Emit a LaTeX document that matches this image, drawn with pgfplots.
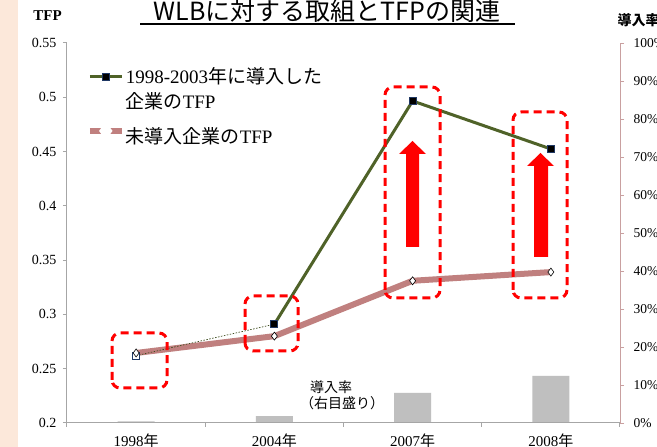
\documentclass[border=0pt]{standalone}
\usepackage{pgfplots}
\pgfplotsset{compat=1.18}
\usepackage{fontspec}
\setmainfont{Liberation Serif}
\newfontfamily\cjk{Noto Sans CJK JP}
\definecolor{peach}{HTML}{FCE8DA}
\definecolor{olivec}{HTML}{4F6228}
\definecolor{rose}{HTML}{C0807F}
\definecolor{navyb}{HTML}{1F3864}
\definecolor{axgray}{HTML}{A6A6A6}
\definecolor{axpink}{HTML}{C9A0A0}
\definecolor{bargray}{HTML}{BFBFBF}
\begin{document}
\begin{tikzpicture}[x=1pt,y=1pt]
\useasboundingbox (0,0) rectangle (657,447);
\clip (0,0) rectangle (657,447);
\fill[white] (0,0) rectangle (657,447);
\fill[peach] (0,0) rectangle (18,447);

% right axis: adoption rate bars
\begin{axis}[at={(67pt,24pt)}, anchor=south west, scale only axis,
  width=553pt, height=380pt,
  xmin=-0.5, xmax=3.5, ymin=0, ymax=1,
  axis y line*=right, axis x line=none,
  ytick={0,0.1,0.2,0.3,0.4,0.5,0.6,0.7,0.8,0.9,1},
  yticklabels={0\%,10\%,20\%,30\%,40\%,50\%,60\%,70\%,80\%,90\%,100\%},
  y axis line style={draw=axpink, line width=0.8pt},
  ytick style={draw=axpink, line width=0.8pt},
  tick align=outside, major tick length=4pt,
  yticklabel style={font=\fontsize{13.5}{13.5}\selectfont, xshift=6pt},
]
\addplot[ybar, bar width=37pt, fill=bargray, draw=none] coordinates {(0,0.004) (1,0.018) (2,0.079) (3,0.124)};
\end{axis}

% left axis: TFP lines
\begin{axis}[at={(67pt,24pt)}, anchor=south west, scale only axis,
  width=553pt, height=380pt,
  xmin=-0.5, xmax=3.5, ymin=0.2, ymax=0.55,
  axis y line*=left, axis x line*=bottom,
  axis line style={draw=axgray, line width=1pt},
  xtick={-0.5,0.5,1.5,2.5,3.5}, xticklabels={},
  extra x ticks={0,1,2,3},
  extra x tick labels={1998{\cjk 年},2004{\cjk 年},2007{\cjk 年},2008{\cjk 年}},
  extra x tick style={major tick length=0pt, xticklabel style={font=\fontsize{15}{15}\selectfont, yshift=-7pt}},
  ytick={0.2,0.25,0.3,0.35,0.4,0.45,0.5,0.55},
  yticklabels={0.2,0.25,0.3,0.35,0.4,0.45,0.5,0.55},
  tick style={draw=axgray, line width=1pt},
  tick align=outside, major tick length=4pt,
  yticklabel style={font=\fontsize{14}{14}\selectfont, xshift=-3pt},
  legend image code/.code={\draw[mark repeat=2,mark phase=2] plot coordinates {(0pt,0pt) (16pt,0pt) (32pt,0pt)};},
  legend cell align=left,
  legend style={at={(0.030,0.945)}, anchor=north west, draw=none, fill=none,
    font=\fontsize{19}{19}\selectfont, row sep=4pt, nodes={inner xsep=1pt, inner ysep=1.5pt}},
]
\addplot[forget plot, rose, line width=6pt] coordinates {(0,0.2645) (1,0.280) (2,0.331) (3,0.339)};
\addplot[forget plot, olivec!80!black, line width=0.7pt, dash pattern=on 1.5pt off 1.5pt] coordinates {(0,0.262) (1,0.291)};
\addplot[forget plot, olivec, line width=3pt] coordinates {(1,0.291) (2,0.4966) (3,0.4524)};
\addplot[forget plot, only marks, mark=square*, mark size=3.5pt, mark options={fill=black, draw=navyb, line width=0.8pt}] coordinates {(1,0.291) (2,0.4966) (3,0.4524)};
\addplot[forget plot, only marks, mark=square*, mark size=3.5pt, mark options={fill=white, draw=navyb, line width=0.8pt}] coordinates {(0,0.262)};
\addplot[forget plot, only marks, mark=diamond*, mark size=4pt, mark options={fill=white, draw=black, line width=0.6pt}] coordinates {(0,0.2645) (1,0.280) (2,0.331) (3,0.339)};
\addlegendimage{olivec, line width=3pt, mark=square*, mark size=3.5pt, mark options={fill=black, draw=navyb, line width=0.6pt}}
\addlegendentry{1998-2003{\cjk 年に導入した}}
\addlegendimage{empty legend}
\addlegendentry{{\cjk 企業の}TFP}
\addlegendimage{rose, line width=6pt, mark=diamond*, mark size=4pt, mark options={fill=white, draw=white}}
\addlegendentry{\rule{0pt}{27pt}{\cjk 未導入企業の}TFP}
\end{axis}

% annotations
\begin{scope}[red, line width=3pt, dash pattern=on 8pt off 5pt, rounded corners=8pt]
\draw (112,59) rectangle (167,114);
\draw (245,96) rectangle (298,151);
\draw (385,149) rectangle (440,360);
\draw (513,149) rectangle (567,335);
\end{scope}
\fill[red] (406,200) -- (406,293) -- (399,293) -- (412.5,306) -- (426,293) -- (419,293) -- (419,200) -- cycle;
\fill[red] (534,190) -- (534,281) -- (527,281) -- (540.5,294) -- (554,281) -- (548,281) -- (548,190) -- cycle;

\node[anchor=base, font=\cjk\fontsize{25}{25}\selectfont] at (327,426.5) {WLBに対する取組とTFPの関連};
\draw[line width=1.5pt] (140,423) -- (515,423);
\node[font=\bfseries\fontsize{15}{15}\selectfont] at (47.5,431) {TFP};
\node[anchor=west, font=\cjk\bfseries\fontsize{14}{14}\selectfont] at (614,427) {導入率};
\node[font=\cjk\fontsize{14}{14}\selectfont] at (331,60) {導入率};
\node[font=\cjk\fontsize{14}{14}\selectfont] at (342,44) {（右目盛り）};
\end{tikzpicture}
\end{document}
